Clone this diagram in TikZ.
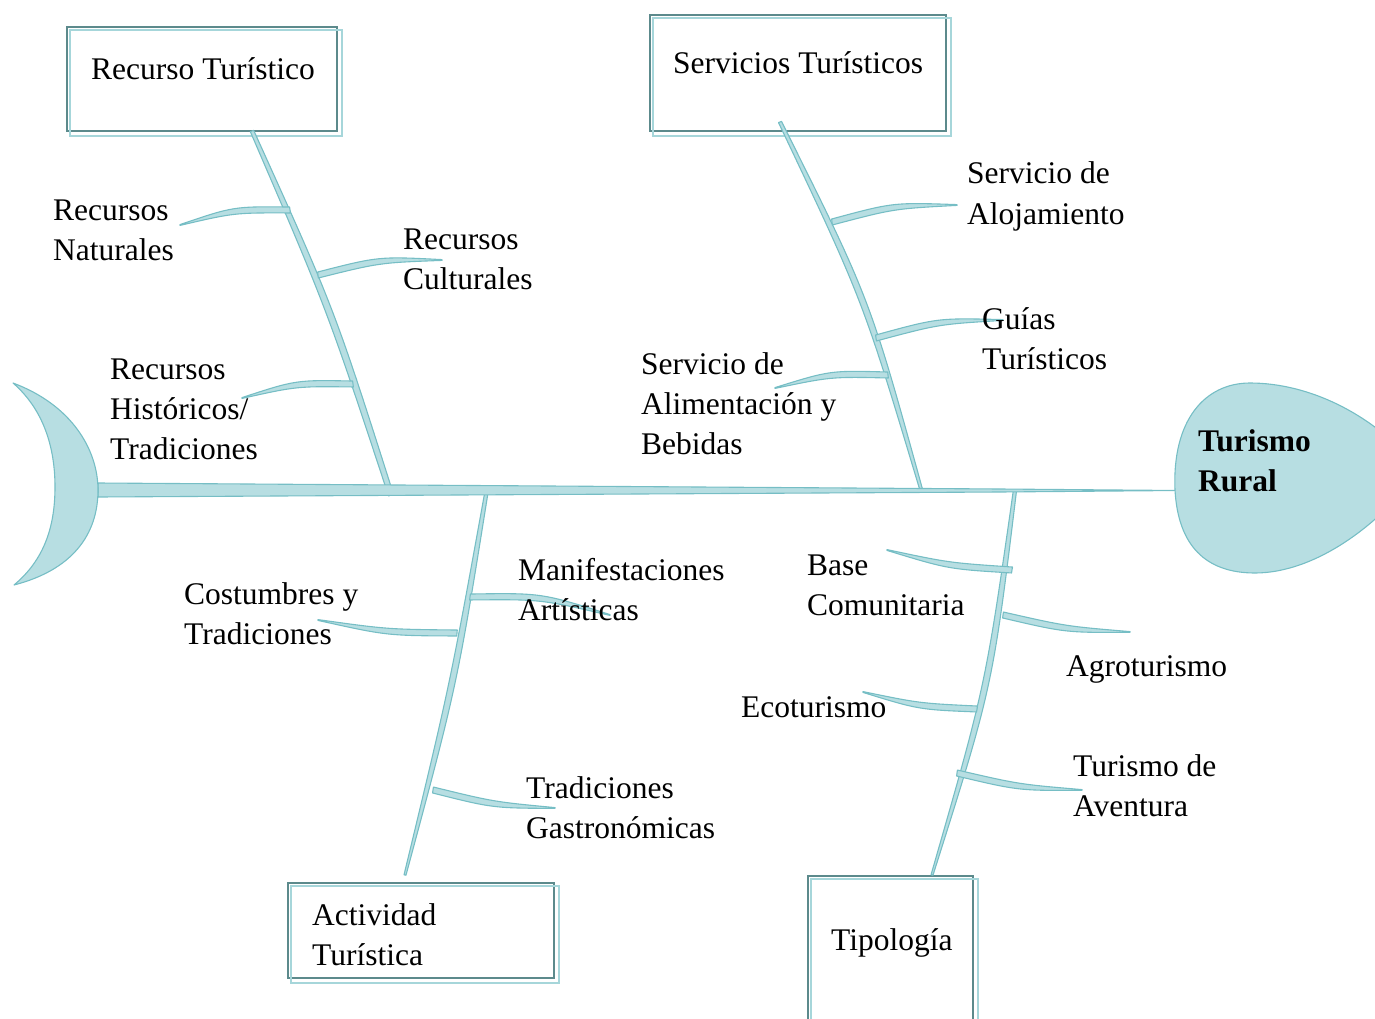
\documentclass[tikz,border=0pt]{standalone}
\usepackage{fontspec}
\setmainfont{Liberation Serif}
\usetikzlibrary{calc}
\definecolor{bonefill}{HTML}{B7DEE2}
\definecolor{boneedge}{HTML}{76BEC5}
\definecolor{boxdark}{HTML}{5C8A8C}
\definecolor{boxlight}{HTML}{A6D6DA}
\tikzset{
  bonesty/.style={fill=bonefill, draw=boneedge, line width=1.1, line join=round},
  lbl/.style={anchor=base west, inner sep=0, align=left, font=\fontsize{31.5}{40}\selectfont},
  boxn/.style={draw=boxdark, line width=2, fill=white, inner sep=0},
  boxl/.style={draw=boxlight, line width=1.8},
}
% ribbon bone: #1 start, #2 end, #3 bend, #4 start half-width, #5 middle half-width, #6 end half-width
\newcommand{\fbone}[6]{%
  \pgfmathsetmacro\fbA{#3+#5}\pgfmathsetmacro\fbB{#3-#5}%
  \filldraw[bonesty] ($(#1)!#4pt!90:(#2)$) .. controls ($(#1)!0.5!(#2)!\fbA pt!90:(#2)$) .. ($(#2)!#6pt!-90:(#1)$)
     -- ($(#2)!#6pt!90:(#1)$) .. controls ($(#1)!0.5!(#2)!\fbB pt!90:(#2)$) .. ($(#1)!#4pt!-90:(#2)$) -- cycle;}
\begin{document}
\begin{tikzpicture}[x=1pt,y=-1pt]
\useasboundingbox (0,0) rectangle (1375,1019);
\clip (0,0) rectangle (1375,1019);
% boxes
\node[boxn, minimum width=270pt, minimum height=104pt] (b1) at (202,79) {};
\draw[boxl] ($(b1.south west)+(4,4)$) rectangle ($(b1.north east)+(4,4)$);
\node[boxn, minimum width=296pt, minimum height=116pt] (b2) at (798,73) {};
\draw[boxl] ($(b2.south west)+(4,4)$) rectangle ($(b2.north east)+(4,4)$);
\node[boxn, minimum width=266pt, minimum height=95pt] (b3) at (421,930.5) {};
\draw[boxl] ($(b3.south west)+(4,4)$) rectangle ($(b3.north east)+(4,4)$);
\node[boxn, minimum width=165pt, minimum height=160pt] (b4) at (890.5,956) {};
\draw[boxl] ($(b4.south west)+(4,4)$) rectangle ($(b4.north east)+(4,4)$);
% key points
\coordinate (m1s) at (252,131); \coordinate (m1e) at (391,495);
\coordinate (m2s) at (780,122); \coordinate (m2e) at (921,489);
\coordinate (m3s) at (487,489); \coordinate (m3e) at (405,875);
\coordinate (m4s) at (1015,490); \coordinate (m4e) at (932,875);
% main bones
\fbone{m1s}{m1e}{10}{1.8}{3.6}{2.6}
\fbone{m2s}{m2e}{17}{1.6}{3.6}{1.4}
\fbone{m3s}{m3e}{8}{1.6}{3.6}{1}
\fbone{m4s}{m4e}{16}{1.6}{3.6}{1}
% branches
\coordinate (n1s) at (180,225); \coordinate (n1e) at (290,210);
\coordinate (n2s) at (442,260); \coordinate (n2e) at (318,275);
\coordinate (n3s) at (242,398); \coordinate (n3e) at (353,384);
\coordinate (n4s) at (957,205); \coordinate (n4e) at (832,222);
\coordinate (n5s) at (1003,320); \coordinate (n5e) at (876,338);
\coordinate (n6s) at (775,388); \coordinate (n6e) at (888,375);
\coordinate (n7s) at (318,620); \coordinate (n7e) at (457,633);
\coordinate (n8s) at (610,615); \coordinate (n8e) at (470,597);
\coordinate (n9s) at (555,808); \coordinate (n9e) at (433,790);
\coordinate (n10s) at (887,550); \coordinate (n10e) at (1012,570);
\coordinate (n11s) at (1130,632); \coordinate (n11e) at (1003,615);
\coordinate (n12s) at (863,692); \coordinate (n12e) at (977,709);
\coordinate (n13s) at (1082,790); \coordinate (n13e) at (957,773);
\fbone{n1s}{n1e}{8}{0.4}{3.2}{3}
\fbone{n2s}{n2e}{-8}{0.4}{3.2}{3}
\fbone{n3s}{n3e}{8}{0.4}{3.2}{3}
\fbone{n4s}{n4e}{-8}{0.4}{3.2}{3}
\fbone{n5s}{n5e}{-8}{0.4}{3.2}{3}
\fbone{n6s}{n6e}{8}{0.4}{3.2}{3}
\fbone{n7s}{n7e}{-6}{0.4}{3.2}{3}
\fbone{n8s}{n8e}{-10}{0.4}{3.2}{3}
\fbone{n9s}{n9e}{6}{0.4}{3.2}{3}
\fbone{n10s}{n10e}{-6}{0.4}{3.2}{3}
\fbone{n11s}{n11e}{6}{0.4}{3.2}{3}
\fbone{n12s}{n12e}{-6}{0.4}{3.2}{3}
\fbone{n13s}{n13e}{6}{0.4}{3.2}{3}
% spine
\coordinate (sp0) at (98,490); \coordinate (sp1) at (1176,490.5);
\filldraw[bonesty] (98,483) -- (1000,489) -- (sp1) -- (1000,492) -- (98,497) -- cycle;
% tail
\filldraw[bonesty] (13,383) .. controls (72,405) and (98,450) .. (98,490)
  .. controls (98,535) and (72,570) .. (14,585)
  .. controls (44,560) and (55,527) .. (55,487)
  .. controls (55,448) and (44,410) .. (13,383) -- cycle;
% head
\filldraw[bonesty] (1175,490) .. controls (1172,420) and (1205,383) .. (1250,383)
  .. controls (1310,383) and (1375,415) .. (1420,470)
  .. controls (1380,525) and (1315,573) .. (1255,573)
  .. controls (1205,573) and (1178,545) .. (1175,490) -- cycle;
% labels (base = baseline of last line)
\node[lbl] (t1) at (91,80) {Recurso Turístico};
\node[lbl] (t2) at (673,74) {Servicios Turísticos};
\node[lbl] (t3) at (312,965) {Actividad\\Turística};
\node[lbl] (t4) at (831,950) {Tipología};
\node[lbl] (l1) at (53,260) {Recursos\\Naturales};
\node[lbl] (l2) at (403,289) {Recursos\\Culturales};
\node[lbl] (l3) at (110,459) {Recursos\\Históricos/\\Tradiciones};
\node[lbl] (l4) at (967,224) {Servicio de\\Alojamiento};
\node[lbl] (l5) at (982,369) {Guías\\Turísticos};
\node[lbl] (l6) at (641,454) {Servicio de\\Alimentación y\\Bebidas};
\node[lbl, font=\fontsize{31.5}{40}\selectfont\bfseries] (l7) at (1198,491) {Turismo\\Rural};
\node[lbl] (l8) at (184,644) {Costumbres y\\Tradiciones};
\node[lbl] (l9) at (518,620) {Manifestaciones\\Artísticas};
\node[lbl] (l10) at (526,838) {Tradiciones\\Gastronómicas};
\node[lbl] (l11) at (807,615) {Base\\Comunitaria};
\node[lbl] (l12) at (1066,676) {Agroturismo};
\node[lbl] (l13) at (741,717) {Ecoturismo};
\node[lbl] (l14) at (1073,816) {Turismo de\\Aventura};
\end{tikzpicture}
\end{document}
